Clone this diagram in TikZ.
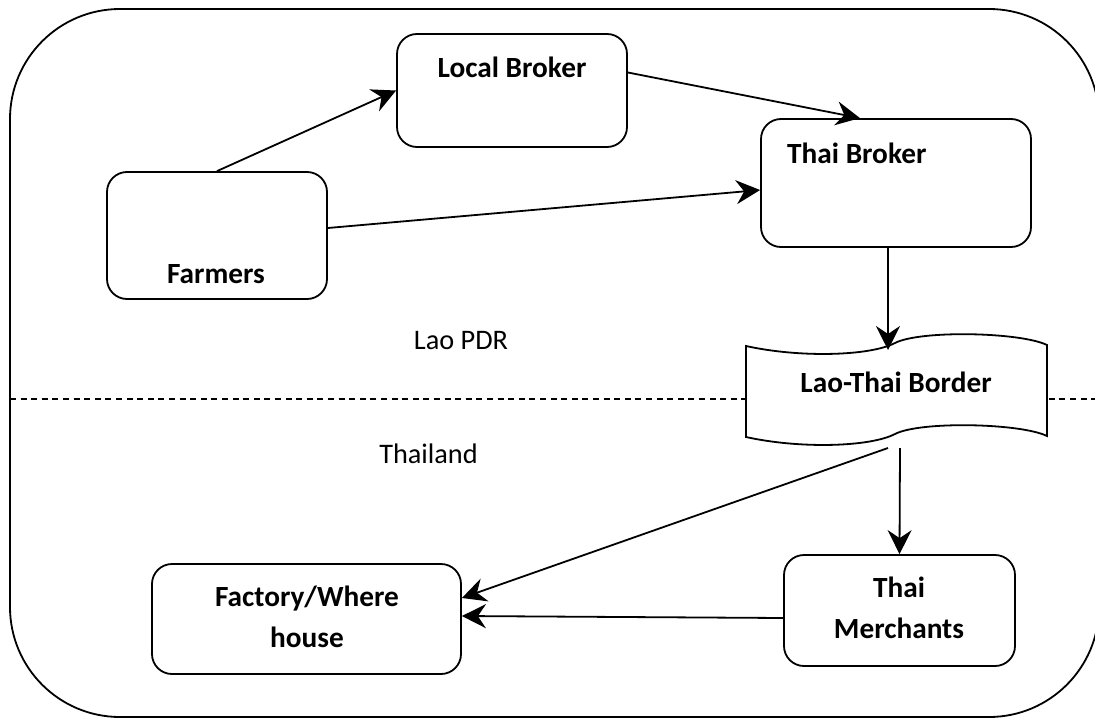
\documentclass[tikz,border=0pt]{standalone}
\usepackage{fontspec}
\setmainfont{Carlito}
\usetikzlibrary{arrows.meta}
\begin{document}
\begin{tikzpicture}[x=1pt,y=-1pt,
  box/.style={draw,line width=1.8pt,rounded corners=20pt,minimum width=#1,inner sep=0pt},
  lbl/.style={font=\fontsize{29.3}{34}\selectfont\bfseries,inner sep=0pt,anchor=base},
  plain/.style={font=\fontsize{28.3}{33}\selectfont,inner sep=0pt,anchor=base},
  arr/.style={line width=1.8pt,-{Stealth[length=24pt,width=24pt,inset=8pt]}},
  frame/.style={line width=1.8pt,rounded corners=110pt}]
\clip (0,0) rectangle (1095,720);
\useasboundingbox (0,0) rectangle (1095,720);
% outer frame
\draw[frame] (10,9) rectangle (1099,717);
% border line
\draw[line width=1.5pt,dash pattern=on 6pt off 4.6pt] (10,399) -- (1099,399);
% boxes
\node[box=230pt,minimum height=113pt] (local) at (512,90.5) {};
\node[box=270pt,minimum height=128pt] (tb) at (896,183) {};
\node[box=220pt,minimum height=127pt] (farm) at (217,235.5) {};
\node[box=309pt,minimum height=110pt] (fact) at (306.5,619) {};
\node[box=231pt,minimum height=111pt] (merch) at (899.5,610.5) {};
% tape shape
\filldraw[fill=white,line width=1.8pt]
  (746,346) .. controls (800,358) and (870,356) .. (895,343)
  .. controls (920,330) and (1020,332) .. (1047,345)
  -- (1047,436)
  .. controls (1020,423) and (920,421) .. (895,434)
  .. controls (870,447) and (800,449) .. (746,437) -- cycle;
\coordinate (bt) at (888,350);
\coordinate (bb1) at (888,448);
\coordinate (bb2) at (900,448);
% texts
\node[lbl] (localt) at (512,77) {Local Broker};
\node[lbl,anchor=base west] (tbt) at (787,163) {Thai Broker};
\node[lbl] (farmt) at (216,283) {Farmers};
\node[lbl] (factt1) at (307,606) {Factory/Where};
\node[lbl] (factt2) at (307,647) {house};
\node[lbl] (mercht1) at (899,597) {Thai};
\node[lbl] (mercht2) at (899,638) {Merchants};
\node[lbl] (bordert) at (896,392) {Lao-Thai Border};
\node[plain] (lao) at (461,349) {Lao PDR};
\node[plain] (thai) at (428.5,463) {Thailand};
% connectors
\draw[arr] (farm.north) -- (local.west);
\draw[arr] ([yshift=18pt]local.east) -- ([xshift=-36pt]tb.north);
\draw[arr] ([yshift=7.5pt]farm.east) -- ([yshift=-7pt]tb.west);
\draw[arr] ([xshift=-8pt]tb.south) -- (bt);
\draw[arr] (bb2) -- (merch.north);
\draw[arr] (bb1) -- ([yshift=21pt]fact.east);
\draw[arr] ([yshift=-7.5pt]merch.west) -- ([yshift=3pt]fact.east);
\end{tikzpicture}
\end{document}
